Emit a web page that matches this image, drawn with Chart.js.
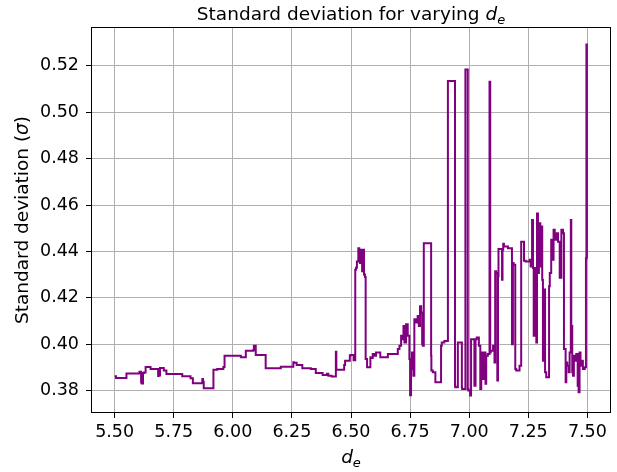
<!DOCTYPE html>
<html>
<head>
<meta charset="utf-8">
<script src="https://cdn.jsdelivr.net/npm/chart.js@4/dist/chart.umd.min.js"></script>
<style>
  html, body { margin: 0; padding: 0; background: #fff; }
  #wrap { width: 617px; height: 472px; }
</style>
</head>
<body>
<div id="wrap"><canvas id="sdChart" width="617" height="472"></canvas></div>
<script>
// ── data ─────────────────────────────────────
const deValues = [
  5.500, 5.506, 5.508, 5.550, 5.551, 5.605, 5.607, 5.612, 5.615, 5.620, 5.624, 5.631, 5.633, 5.652, 5.654,
  5.684, 5.686, 5.692, 5.695, 5.708, 5.710, 5.719, 5.721, 5.786, 5.788, 5.821, 5.823, 5.831, 5.833, 5.871,
  5.874, 5.877, 5.880, 5.918, 5.920, 5.934, 5.937, 5.960, 5.962, 5.965, 5.967, 6.034, 6.036, 6.055, 6.057,
  6.087, 6.089, 6.092, 6.097, 6.100, 6.139, 6.141, 6.203, 6.205, 6.256, 6.258, 6.270, 6.275, 6.294, 6.296,
  6.330, 6.332, 6.351, 6.353, 6.380, 6.382, 6.398, 6.400, 6.404, 6.409, 6.418, 6.420, 6.436, 6.438, 6.440,
  6.471, 6.475, 6.483, 6.495, 6.497, 6.511, 6.518, 6.521, 6.525, 6.531, 6.535, 6.538, 6.542, 6.547, 6.551,
  6.555, 6.559, 6.562, 6.568, 6.571, 6.582, 6.585, 6.592, 6.599, 6.606, 6.613, 6.624, 6.634, 6.656, 6.662,
  6.698, 6.705, 6.712, 6.716, 6.722, 6.726, 6.733, 6.740, 6.747, 6.750, 6.754, 6.758, 6.764, 6.768, 6.775,
  6.782, 6.787, 6.792, 6.797, 6.801, 6.804, 6.808, 6.812, 6.839, 6.840, 6.846, 6.857, 6.860, 6.881, 6.884,
  6.895, 6.903, 6.910, 6.911, 6.940, 6.941, 6.952, 6.959, 6.969, 6.970, 6.984, 6.989, 6.994, 6.996, 7.004,
  7.008, 7.016, 7.022, 7.027, 7.032, 7.041, 7.047, 7.051, 7.058, 7.065, 7.069, 7.072, 7.079, 7.086, 7.089,
  7.091, 7.101, 7.107, 7.110, 7.114, 7.119, 7.122, 7.124, 7.133, 7.139, 7.141, 7.144, 7.147, 7.164, 7.181,
  7.185, 7.188, 7.195, 7.199, 7.213, 7.220, 7.225, 7.232, 7.239, 7.256, 7.260, 7.266, 7.270, 7.273, 7.277,
  7.280, 7.284, 7.287, 7.291, 7.295, 7.301, 7.305, 7.309, 7.312, 7.315, 7.321, 7.326, 7.338, 7.341, 7.347,
  7.355, 7.357, 7.362, 7.369, 7.376, 7.383, 7.390, 7.397, 7.401, 7.408, 7.411, 7.415, 7.421, 7.425, 7.430,
  7.432, 7.436, 7.439, 7.443, 7.449, 7.453, 7.459, 7.463, 7.467, 7.471, 7.478, 7.481, 7.489, 7.494, 7.496,
  7.498, 7.500
];
const sigmaValues = [
  0.3862, 0.3862, 0.3854, 0.3854, 0.3873, 0.3873, 0.3881, 0.3881, 0.3835, 0.3830, 0.3875, 0.3878, 0.3901, 0.3901, 0.3893,
  0.3893, 0.3863, 0.3865, 0.3897, 0.3897, 0.3886, 0.3886, 0.3871, 0.3871, 0.3862, 0.3862, 0.3853, 0.3853, 0.3831, 0.3831,
  0.3850, 0.3838, 0.3810, 0.3810, 0.3890, 0.3890, 0.3893, 0.3893, 0.3901, 0.3901, 0.3950, 0.3950, 0.3943, 0.3943, 0.3971,
  0.3971, 0.3975, 0.3993, 0.3993, 0.3953, 0.3953, 0.3896, 0.3896, 0.3903, 0.3903, 0.3922, 0.3920, 0.3910, 0.3910, 0.3896,
  0.3896, 0.3893, 0.3893, 0.3876, 0.3876, 0.3867, 0.3867, 0.3872, 0.3872, 0.3864, 0.3864, 0.3860, 0.3860, 0.3967, 0.3890,
  0.3890, 0.3910, 0.3928, 0.3928, 0.3950, 0.3953, 0.3930, 0.4321, 0.4330, 0.4357, 0.4414, 0.4370, 0.4350, 0.4407, 0.4314,
  0.4407, 0.4300, 0.4290, 0.3936, 0.3900, 0.3900, 0.3943, 0.3940, 0.3957, 0.3950, 0.3964, 0.3964, 0.3943, 0.3943, 0.3957,
  0.3957, 0.3979, 0.3993, 0.4036, 0.4021, 0.4078, 0.4007, 0.4086, 0.4036, 0.3936, 0.3780, 0.3893, 0.3964, 0.3864, 0.4107,
  0.4093, 0.4121, 0.4078, 0.4164, 0.4136, 0.4000, 0.3993, 0.4435, 0.4435, 0.3950, 0.3886, 0.3879, 0.3836, 0.3836, 0.3993,
  0.4007, 0.4014, 0.4014, 0.5135, 0.5135, 0.3821, 0.3814, 0.4007, 0.4007, 0.3814, 0.3807, 0.5185, 0.5185, 0.3807, 0.3800,
  0.3779, 0.4021, 0.4021, 0.3821, 0.4021, 0.4029, 0.3993, 0.3807, 0.3964, 0.3850, 0.3964, 0.3829, 0.3950, 0.3957, 0.5132,
  0.3964, 0.3971, 0.3993, 0.3921, 0.4314, 0.4307, 0.3843, 0.4293, 0.4410, 0.4410, 0.4278, 0.4407, 0.4433, 0.4421, 0.4414,
  0.4000, 0.4350, 0.4343, 0.3893, 0.3886, 0.3907, 0.4442, 0.4442, 0.4360, 0.4357, 0.4364, 0.4335, 0.4535, 0.4328, 0.4036,
  0.4300, 0.4328, 0.4007, 0.4564, 0.4307, 0.4521, 0.4335, 0.4507, 0.4278, 0.3928, 0.4236, 0.3879, 0.3857, 0.4250, 0.4307,
  0.4450, 0.4364, 0.4493, 0.4450, 0.4478, 0.4442, 0.4286, 0.4493, 0.4478, 0.3979, 0.3836, 0.3921, 0.3907, 0.3879, 0.3964,
  0.4535, 0.4078, 0.3879, 0.3864, 0.3950, 0.3928, 0.3957, 0.3821, 0.3793, 0.3964, 0.3907, 0.3928, 0.3893, 0.3900, 0.4371,
  0.5292, 0.4371
];
const xTicks = [5.50, 5.75, 6.00, 6.25, 6.50, 6.75, 7.00, 7.25, 7.50];
const yTicks = [0.38, 0.40, 0.42, 0.44, 0.46, 0.48, 0.50, 0.52];

const FONT = "'DejaVu Sans', 'Liberation Sans', sans-serif";

// draw a row of text pieces (mixed fonts / subscript) centred on cx
function drawPieces(ctx, pieces, cx, baseY) {
  let total = 0;
  pieces.forEach(p => { ctx.font = p.font; p.w = ctx.measureText(p.text).width; total += p.w; });
  let x = cx - total / 2;
  ctx.textAlign = 'left';
  ctx.textBaseline = 'alphabetic';
  pieces.forEach(p => {
    ctx.font = p.font;
    ctx.fillText(p.text, x, baseY + (p.dy || 0));
    x += p.w;
  });
}

const labelsPlugin = {
  id: 'labels',
  afterDraw(chart) {
    const ctx = chart.ctx;
    const a = chart.chartArea;
    const cx = (a.left + a.right) / 2;
    ctx.save();
    ctx.fillStyle = '#000';

    // frame
    ctx.strokeStyle = '#000';
    ctx.lineWidth = 1;
    ctx.strokeRect(Math.round(a.left) + 0.5, Math.round(a.top) + 0.5,
                   Math.round(a.right - a.left) - 1, Math.round(a.bottom - a.top) - 1);

    // title
    drawPieces(ctx, [
      { text: 'Standard deviation for varying ', font: '18.5px ' + FONT },
      { text: 'd', font: 'italic 18.5px ' + FONT },
      { text: 'e', font: 'italic 13px ' + FONT, dy: 4 }
    ], cx, 19.5);

    // x label
    drawPieces(ctx, [
      { text: 'd', font: 'italic 18.5px ' + FONT },
      { text: 'e', font: 'italic 13px ' + FONT, dy: 4 }
    ], cx, 463);

    // y label
    ctx.translate(28, (a.top + a.bottom) / 2);
    ctx.rotate(-Math.PI / 2);
    drawPieces(ctx, [
      { text: 'Standard deviation (', font: '18.5px ' + FONT },
      { text: 'σ', font: 'italic 18.5px ' + FONT },
      { text: ')', font: '18.5px ' + FONT }
    ], 0, 0);
    ctx.restore();
  }
};

const points = deValues.map((x, i) => ({ x: x, y: sigmaValues[i] }));

new Chart(document.getElementById('sdChart'), {
  type: 'scatter',
  data: {
    datasets: [{
      data: points,
      showLine: true,
      stepped: 'after',
      borderColor: '#800080',
      borderWidth: 2,
      pointRadius: 0,
      fill: false
    }]
  },
  options: {
    responsive: false,
    animation: false,
    layout: { padding: { top: 27, right: 6, left: 0, bottom: 0 } },
    plugins: {
      legend: { display: false },
      tooltip: { enabled: false },
      title: { display: false }
    },
    scales: {
      x: {
        type: 'linear',
        min: 5.4,
        max: 7.6,
        afterBuildTicks: s => { s.ticks = xTicks.map(v => ({ value: v })); },
        afterFit: s => { s.height = 59; },
        border: { display: false },
        grid: { color: '#b0b0b0', lineWidth: 1, tickColor: '#000', tickLength: 5, drawTicks: true },
        ticks: {
          autoSkip: false,
          maxRotation: 0,
          padding: 4,
          color: '#000',
          font: { family: FONT, size: 17.5 },
          callback: v => Number(v).toFixed(2)
        }
      },
      y: {
        type: 'linear',
        min: 0.3703,
        max: 0.5368,
        afterBuildTicks: s => { s.ticks = yTicks.map(v => ({ value: v })); },
        afterFit: s => { s.width = 91; },
        border: { display: false },
        grid: { color: '#b0b0b0', lineWidth: 1, tickColor: '#000', tickLength: 5, drawTicks: true },
        ticks: {
          autoSkip: false,
          padding: 7,
          color: '#000',
          font: { family: FONT, size: 17.5 },
          callback: v => Number(v).toFixed(2)
        }
      }
    }
  },
  plugins: [labelsPlugin]
});
</script>
</body>
</html>
